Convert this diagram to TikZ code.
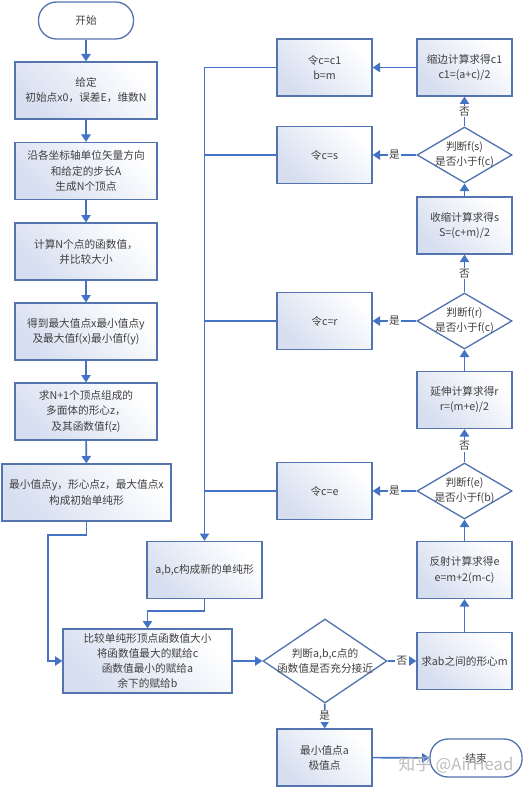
\documentclass[tikz,border=0pt]{standalone}
\usepackage{fontspec}
\setmainfont{Noto Sans CJK SC}
\usetikzlibrary{shapes.geometric,arrows.meta,calc}
\definecolor{lineblue}{RGB}{68,114,196}
\definecolor{boxedge}{RGB}{84,116,176}
\definecolor{fillblue}{RGB}{214,222,240}
\definecolor{txt}{RGB}{64,64,64}
\begin{document}
\begin{tikzpicture}[x=0.75pt,y=-0.75pt,
  every node/.style={text=txt, font=\fontsize{8}{11.3}\selectfont},
  box/.style={draw=boxedge, line width=1pt, left color=fillblue, right color=white, shading angle=135,
    align=center, inner sep=2pt, minimum width=95*0.75pt, minimum height=57*0.75pt},
  term/.style={draw=boxedge, line width=1pt, fill=white, rounded corners=13.5pt,
    align=center, minimum width=95*0.75pt, minimum height=37*0.75pt},
  dia/.style={diamond, draw=boxedge, line width=1pt, fill=white, inner sep=0pt,
    minimum width=95*0.75pt, minimum height=56*0.75pt},
  dtext/.style={align=center, inner sep=0pt},
  conn/.style={draw=lineblue, line width=1.2pt},
  arr/.style={conn, -{Triangle[length=5.5pt,width=7pt]}},
  lab/.style={fill=white, inner sep=1pt}]
\useasboundingbox (0,0) rectangle (524,788);

% left column
\node[term] (start) at (86,20.5) {开始};
\node[box, minimum width=142*0.75pt] (b1) at (86,90.5) {给定\\初始点x0，误差E，维数N};
\node[box, minimum width=142*0.75pt] (b2) at (86,171) {沿各坐标轴单位矢量方向\\和给定的步长A\\生成N个顶点};
\node[box, minimum width=142*0.75pt] (b3) at (86,251.5) {计算N个点的函数值，\\并比较大小};
\node[box, minimum width=142*0.75pt] (b4) at (86,331.5) {得到最大值点x最小值点y\\及最大值f(x)最小值f(y)};
\node[box, minimum width=142*0.75pt] (b5) at (86,411.5) {求N+1个顶点组成的\\多面体的形心z，\\及其函数值f(z)};
\node[box, minimum width=169*0.75pt] (b6) at (86.5,492.5) {最小值点y，形心点z，最大值点x\\构成初始单纯形};

% right part
\node[box] (c1) at (324.5,67.5) {令c=c1\\b=m};
\node[box] (shr) at (464.5,67.5) {缩边计算求得c1\\c1=(a+c)/2};
\node[dia] (ds) at (464.5,155) {};
\node[dtext] (dst) at (ds) {判断f(s)\\是否小于f(c)};
\node[box] (cs) at (324.5,155) {令c=s};
\node[box] (con) at (464.5,225.5) {收缩计算求得s\\S=(c+m)/2};
\node[dia] (dr) at (464.5,321) {};
\node[dtext] (drt) at (dr) {判断f(r)\\是否小于f(c)};
\node[box] (cr) at (324.5,321) {令c=r};
\node[box] (ext) at (464.5,400) {延伸计算求得r\\r=(m+e)/2};
\node[dia] (de) at (464.5,491) {};
\node[dtext] (det) at (de) {判断f(e)\\是否小于f(b)};
\node[box] (ce) at (324.5,491) {令c=e};
\node[box] (refl) at (464.5,570) {反射计算求得e\\e=m+2(m-c)};
\node[box, minimum width=115*0.75pt] (nb) at (204.5,570) {a,b,c构成新的单纯形};
\node[box, minimum width=169*0.75pt, minimum height=64*0.75pt] (cmp) at (147.5,661) {比较单纯形顶点函数值大小\\将函数值最大的赋给c\\函数值最小的赋给a\\余下的赋给b};
\node[dia, minimum width=124*0.75pt, minimum height=84*0.75pt] (d0) at (325,661) {};
\node[dtext] (d0t) at (d0) {判断a,b,c点的\\函数值是否充分接近};
\node[box] (mm) at (464.5,661) {求ab之间的形心m};
\node[box] (res) at (324.5,757.5) {最小值点a\\极值点};
\node[term, minimum width=92*0.75pt, minimum height=38*0.75pt] (end) at (476,758) {结束};

\coordinate (k1) at (48,535);
\coordinate (k3) at (147.5,611);

% connectors
\draw[arr] (start) -- (b1);
\draw[arr] (b1) -- (b2);
\draw[arr] (b2) -- (b3);
\draw[arr] (b3) -- (b4);
\draw[arr] (b4) -- (b5);
\draw[arr] (b5) -- (b6);
\draw[arr] (b6.south) |- (k1) |- (cmp.west);
\draw[arr] (cmp) -- (d0);
\draw[arr] (d0) -- node[lab]{否} (mm);
\draw[arr] (mm) -- (refl);
\draw[arr] (refl) -- (de);
\draw[arr] (de) -- node[lab]{是} (ce);
\draw[arr] (de) -- node[lab]{否} (ext);
\draw[arr] (ext) -- (dr);
\draw[arr] (dr) -- node[lab]{是} (cr);
\draw[arr] (dr) -- node[lab]{否} (con);
\draw[arr] (con) -- (ds);
\draw[arr] (ds) -- node[lab]{是} (cs);
\draw[arr] (ds) -- node[lab]{否} (shr);
\draw[arr] (shr) -- (c1);
\draw[arr] (c1.west) -| (nb.north);
\draw[conn] (cs.west) -- (cs.west -| nb.north);
\draw[conn] (cr.west) -- (cr.west -| nb.north);
\draw[conn] (ce.west) -- (ce.west -| nb.north);
\draw[arr] (nb.south) |- (k3) -- (cmp.north);
\draw[arr] (d0) -- node[lab]{是} (res);
\draw[arr] (res) -- (end);

% watermark
\node[text=gray!60, opacity=0.85, font=\fontsize{12.5}{14}\selectfont] (wm) at (456,765) {知乎 @AirHead};
\end{tikzpicture}
\end{document}
